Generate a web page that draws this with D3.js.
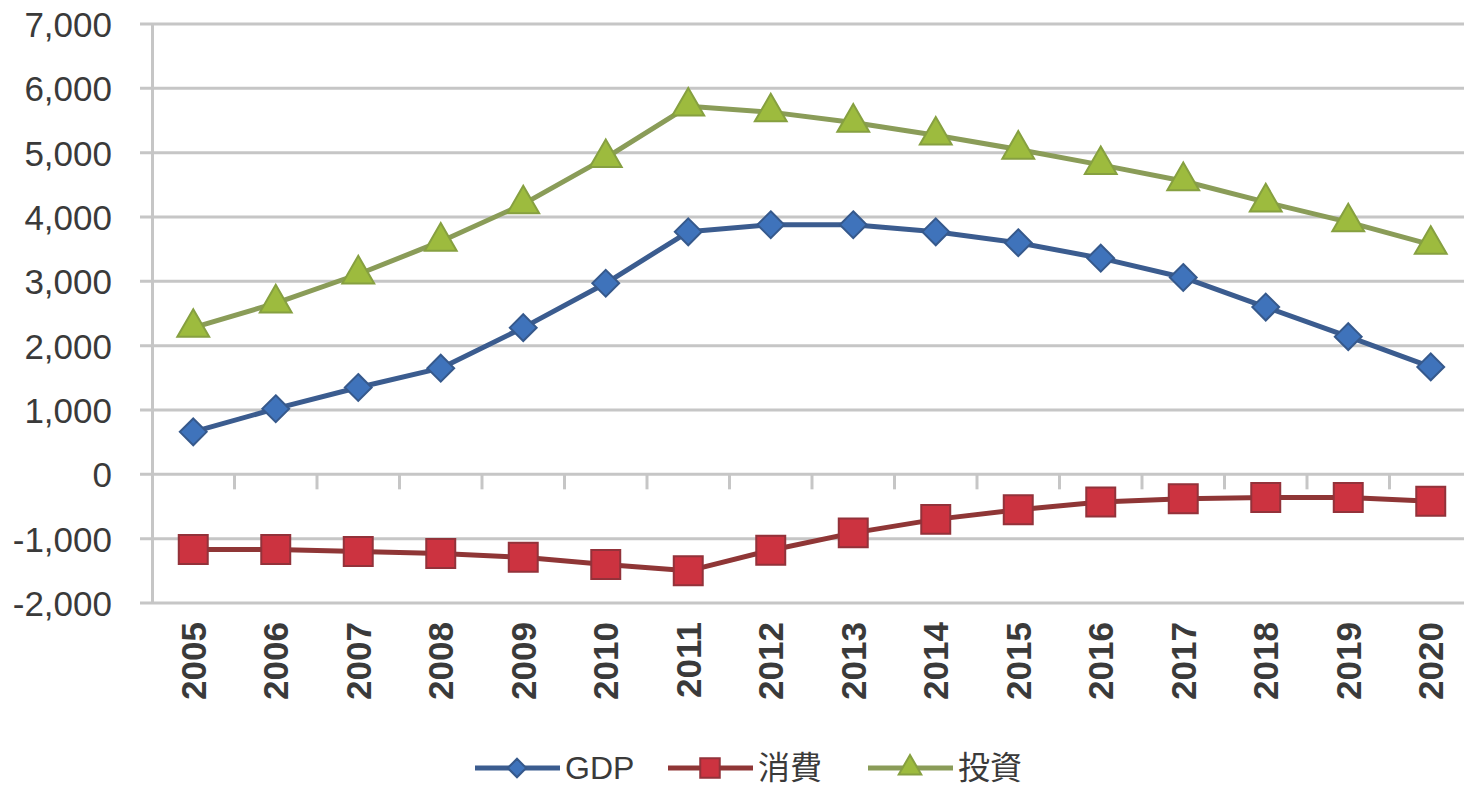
<!DOCTYPE html>
<html>
<head>
<meta charset="utf-8">
<script src="https://cdn.jsdelivr.net/npm/d3@7/dist/d3.min.js"></script>
<style>
  html, body { margin: 0; padding: 0; background: #fff; }
  svg { display: block; }
  text { font-family: "Liberation Sans", Arial, sans-serif; fill: #3a3a3a; }
  .cjk { font-family: "Noto Sans CJK JP", "Noto Sans CJK SC", sans-serif; }
</style>
</head>
<body>
<svg id="chart" width="1464" height="787"></svg>
<script>
// Years on the category axis
const years = ["2005","2006","2007","2008","2009","2010","2011","2012",
               "2013","2014","2015","2016","2017","2018","2019","2020"];

// Series values
const gdp         = [660, 1020, 1350, 1650, 2280, 2970, 3770, 3880, 3880, 3770, 3600, 3360, 3060, 2600, 2140, 1670];
const consumption = [-1170, -1170, -1200, -1230, -1290, -1400, -1500, -1180, -910, -700, -550, -430, -380, -360, -360, -420];
const investment  = [2280, 2660, 3110, 3620, 4200, 4920, 5720, 5630, 5470, 5270, 5050, 4810, 4560, 4230, 3920, 3570];

// Value axis ticks
const yTicks = [-2000, -1000, 0, 1000, 2000, 3000, 4000, 5000, 6000, 7000];

// Legend labels
const seriesNames = ["GDP", "消費", "投資"];

const svg = d3.select("#chart");

const x = d3.scaleBand().domain(years).range([152, 1472]).paddingInner(0).paddingOuter(0);
const y = d3.scaleLinear().domain([-2000, 7000]).range([603, 24]);

// Diamond marker: a square turned 45 degrees
const diamond = {
  draw(ctx, size) {
    const r = Math.sqrt(size / 2);
    ctx.moveTo(0, -r); ctx.lineTo(r, 0); ctx.lineTo(0, r); ctx.lineTo(-r, 0); ctx.closePath();
  }
};

const series = [
  { name: seriesNames[0], values: gdp,         line: "#3b5c8f", fill: "#3f73bb", stroke: "#36598c", shape: diamond,           size: 360, legendSize: 170 },
  { name: seriesNames[1], values: consumption, line: "#8f3636", fill: "#cc3340", stroke: "#93323a", shape: d3.symbolSquare,   size: 840, legendSize: 380 },
  { name: seriesNames[2], values: investment,  line: "#8a9c58", fill: "#9dbb3e", stroke: "#86a040", shape: d3.symbolTriangle, size: 440, legendSize: 220 }
];

// Horizontal gridlines
svg.append("g")
  .selectAll("line")
  .data(yTicks)
  .join("line")
  .attr("x1", 140).attr("x2", 1464)
  .attr("y1", d => y(d)).attr("y2", d => y(d))
  .attr("stroke", "#c6c6c6")
  .attr("stroke-width", 3);

// Value axis, plain hyphen for negatives
const fmt = d3.format(",");
const yAxis = d3.axisLeft(y)
  .tickValues(yTicks)
  .tickSize(0)
  .tickPadding(40)
  .tickFormat(d => fmt(d).replace("\u2212", "-"));
const gy = svg.append("g").attr("transform", "translate(152,0)").call(yAxis);
gy.select(".domain").attr("stroke", "#c6c6c6").attr("stroke-width", 3);
gy.selectAll("text")
  .style("font-size", "35px")
  .attr("fill", "#3a3a3a")
  .attr("dy", "0.36em");

// Category axis along the zero line, ticks at band boundaries
const boundaries = years.slice(1).map(d => x(d));
svg.append("g")
  .selectAll("line")
  .data(boundaries)
  .join("line")
  .attr("x1", d => d).attr("x2", d => d)
  .attr("y1", y(0)).attr("y2", y(0) + 15)
  .attr("stroke", "#c6c6c6")
  .attr("stroke-width", 3);

// Rotated year labels below the plot
svg.append("g")
  .selectAll("text")
  .data(years)
  .join("text")
  .attr("transform", d => `translate(${x(d) + x.bandwidth() / 2},622) rotate(-90)`)
  .attr("text-anchor", "end")
  .attr("dy", "0.36em")
  .style("font-size", "35px")
  .style("font-weight", "bold")
  .attr("fill", "#3a3a3a")
  .text(d => d);

const cx = d => x(d) + x.bandwidth() / 2;

series.forEach(s => {
  const pts = years.map((yr, i) => [cx(yr), y(s.values[i])]);
  svg.append("path")
    .datum(pts)
    .attr("fill", "none")
    .attr("stroke", s.line)
    .attr("stroke-width", 5)
    .attr("stroke-linejoin", "round")
    .attr("d", d3.line());

  const sym = d3.symbol().type(s.shape).size(s.size);
  svg.append("g")
    .selectAll("path")
    .data(pts)
    .join("path")
    .attr("transform", d => `translate(${d[0]},${d[1]})`)
    .attr("d", sym())
    .attr("fill", s.fill)
    .attr("stroke", s.stroke)
    .attr("stroke-width", 2);
});

// Legend
const legendX = [475, 668, 868];
const legend = svg.append("g");
series.forEach((s, i) => {
  const g = legend.append("g").attr("transform", `translate(${legendX[i]},768)`);
  g.append("line")
    .attr("x1", 0).attr("x2", 85)
    .attr("y1", 0).attr("y2", 0)
    .attr("stroke", s.line).attr("stroke-width", 5);
  g.append("path")
    .attr("transform", "translate(42,0)")
    .attr("d", d3.symbol().type(s.shape).size(s.legendSize)())
    .attr("fill", s.fill)
    .attr("stroke", s.stroke)
    .attr("stroke-width", 2);
  g.append("text")
    .attr("class", i > 0 ? "cjk" : null)
    .attr("x", 90)
    .attr("dy", "0.35em")
    .style("font-size", "32px")
    .attr("fill", "#3a3a3a")
    .text(s.name);
});
</script>
</body>
</html>
